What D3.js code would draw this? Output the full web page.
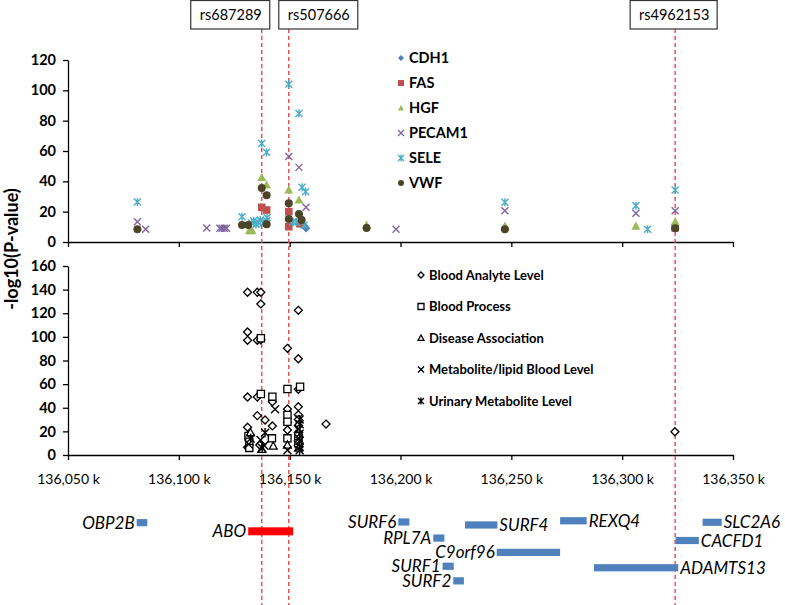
<!DOCTYPE html>
<html>
<head>
<meta charset="utf-8">
<script src="https://cdn.jsdelivr.net/npm/d3@7"></script>
<style>
  body { margin: 0; background: #fff; }
  text { font-family: Lato, "Open Sans", sans-serif; }
</style>
</head>
<body>
<div id="chart"></div>
<script>
'use strict'

// genomic positions in kb, values are -log10(P)
const xTicks = [136050, 136100, 136150, 136200, 136250, 136300, 136350]
const topTicks = [0, 20, 40, 60, 80, 100, 120]
const bottomTicks = [0, 20, 40, 60, 80, 100, 120, 140, 160]

const snpNames = ['rs687289', 'rs507666', 'rs4962153']
const snpPos = [136137.4, 136149.6, 136323.9]

// top panel: protein levels
const cdh1 = [[136157.4, 9], [136156.6, 10.5]]
const fas = [[136137.4, 22.9], [136139.6, 21.1], [136149.6, 20], [136149.6, 10.1],
  [136154.6, 12], [136323.9, 9.4]]
const hgf = [[136131.8, 7.5], [136133.0, 7.5], [136137.4, 42.6], [136139.6, 37.6],
  [136149.6, 34.3], [136154.2, 27.7], [136155.0, 17.3], [136184.7, 11.2],
  [136247.1, 10.5], [136306.2, 10.5], [136323.9, 13.4]]
const pecam1 = [[136081.3, 13.4], [136085.0, 8.4], [136112.6, 9.2], [136118.5, 9],
  [136119.5, 9], [136120.5, 9], [136121.5, 9], [136149.6, 56.3], [136154.2, 49.2],
  [136157.4, 22.9], [136198.0, 8.4], [136247.1, 20.6], [136306.2, 18.9], [136323.9, 20.6]]
const sele = [[136081.3, 26.4], [136128.5, 16.7], [136132.8, 12.5], [136133.8, 14],
  [136134.8, 11.5], [136135.8, 13], [136136.8, 14.5], [136138.0, 12.5], [136139.6, 14],
  [136139.8, 16], [136137.4, 65], [136139.6, 59.1], [136149.6, 104], [136151.5, 13.4],
  [136153.0, 13], [136154.2, 84.8], [136155.6, 36.1], [136157.2, 33.2], [136156.5, 11],
  [136247.1, 26.2], [136306.2, 23.9], [136311.5, 8.4], [136323.9, 34.3]]
const vwf = [[136081.3, 8.4], [136128.5, 11.2], [136131.3, 11.2], [136137.4, 35.6],
  [136139.6, 30.8], [136139.6, 11.7], [136149.6, 25.5], [136149.6, 15.2],
  [136154.2, 18.5], [136155.4, 14.5], [136184.7, 9.2], [136247.1, 8.4], [136323.9, 9]]

// bottom panel: GWAS catalogue traits
const bloodAnalyte = [[136131.0, 137.8], [136135.4, 137.8], [136137.0, 137.8],
  [136137.0, 127.9], [136153.9, 122.5], [136131.0, 104.1], [136131.0, 97.1],
  [136135.4, 97.1], [136137.0, 97.5], [136149.0, 90.3], [136153.9, 81.5],
  [136153.9, 55.6], [136131.0, 49.1], [136135.4, 49.1], [136142.2, 45.1],
  [136149.0, 38.9], [136153.9, 40.9], [136135.4, 33.3], [136138.9, 29.6],
  [136142.2, 24.6], [136149.0, 27.7], [136166.4, 26.2], [136131.0, 23.5],
  [136149.0, 21.2], [136153.9, 34], [136153.9, 30], [136153.9, 25], [136153.9, 19],
  [136136.5, 8.5], [136131.0, 6.5], [136153.9, 12], [136153.9, 8], [136323.8, 19.7]]
const bloodProcess = [[136137.0, 98.8], [136149.0, 55.9], [136154.7, 57.8],
  [136137.0, 51.7], [136142.2, 49.4], [136149.0, 33.9], [136149.0, 28.2],
  [136131.4, 16.1], [136131.8, 11.3], [136142.0, 14.1], [136149.0, 14.1],
  [136153.9, 16], [136153.9, 10], [136131.8, 6]]
const diseaseAssoc = [[136132.3, 19], [136142.6, 7.6], [136149.0, 8.5],
  [136137.4, 5], [136154.0, 6]]
const metaboliteBlood = [[136143.4, 38.7], [136136.9, 12.7], [136149.0, 4],
  [136154.2, 22], [136154.2, 14], [136131.5, 9], [136138.5, 8]]
const urinaryMetabolite = [[136138.9, 18.9], [136154.5, 30], [136154.5, 26],
  [136154.5, 18], [136154.5, 12], [136154.5, 7], [136154.5, 4], [136132.4, 14],
  [136137.6, 6]]

// gene track
const geneNames = ['OBP2B', 'ABO', 'SURF6', 'RPL7A', 'SURF1', 'SURF2', 'SURF4',
  'C9orf96', 'REXQ4', 'ADAMTS13', 'CACFD1', 'SLC2A6']
const geneStart = [136081.0, 136131.3, 136199.0, 136214.8, 136219.0, 136223.8,
  136229.1, 136243.4, 136272.0, 136287.3, 136324.1, 136336.3]
const geneEnd = [136085.8, 136151.6, 136204.0, 136219.8, 136224.0, 136228.6,
  136243.7, 136272.0, 136284.0, 136325.3, 136334.6, 136344.9]
const geneLane = [0.05, 0.69, 0, 1.19, 3.28, 4.36, 0.22, 2.25, -0.09, 3.39, 1.37, 0.02]
const geneLabelSide = ['left', 'left', 'left', 'left', 'left', 'left', 'right',
  'left', 'right', 'right', 'right', 'right']

const topSeries = [
  {name: 'CDH1', data: cdh1, shape: 'diamond', color: '#4F81BD'},
  {name: 'FAS', data: fas, shape: 'square', color: '#C0504D'},
  {name: 'HGF', data: hgf, shape: 'triangle', color: '#9BBB59'},
  {name: 'PECAM1', data: pecam1, shape: 'x', color: '#8064A2'},
  {name: 'SELE', data: sele, shape: 'star', color: '#4BACC6'},
  {name: 'VWF', data: vwf, shape: 'circle', color: '#4A4526'},
]
const bottomSeries = [
  {name: 'Blood Analyte Level', data: bloodAnalyte, shape: 'diamond'},
  {name: 'Blood Process', data: bloodProcess, shape: 'square'},
  {name: 'Disease Association', data: diseaseAssoc, shape: 'triangle'},
  {name: 'Metabolite/lipid Blood Level', data: metaboliteBlood, shape: 'x'},
  {name: 'Urinary Metabolite Level', data: urinaryMetabolite, shape: 'star'},
]

const W = 785, H = 605
const svg = d3.select('#chart').append('svg')
  .attr('width', W).attr('height', H)

const x = d3.scaleLinear().domain([136050, 136350]).range([68, 733])
const yTop = d3.scaleLinear().domain([0, 120]).range([242, 60])
const yBot = d3.scaleLinear().domain([0, 160]).range([455, 266])
const yLane = d3.scaleLinear().domain([0, 1]).range([522, 535.5])

function markerPath(shape, s) {
  if (shape === 'diamond') return `M0,${-s}L${s},0L0,${s}L${-s},0Z`
  if (shape === 'square') return `M${-s},${-s}H${s}V${s}H${-s}Z`
  if (shape === 'triangle') return `M0,${-s}L${s},${s * 0.8}L${-s},${s * 0.8}Z`
  if (shape === 'circle') return d3.arc()({innerRadius: 0, outerRadius: s, startAngle: 0, endAngle: 2 * Math.PI})
  if (shape === 'x') return `M${-s},${-s}L${s},${s}M${s},${-s}L${-s},${s}`
  // star: x with a vertical bar
  return `M${-s},${-s}L${s},${s}M${s},${-s}L${-s},${s}M0,${-s * 1.15}L0,${s * 1.15}`
}

function styleMarker(sel, shape, color, filled) {
  const lineOnly = shape === 'x' || shape === 'star'
  if (lineOnly) {
    sel.attr('fill', 'none').attr('stroke', color).attr('stroke-width', 1.4)
  } else if (filled) {
    sel.attr('fill', color).attr('stroke', 'none')
  } else {
    sel.attr('fill', '#fff').attr('stroke', color).attr('stroke-width', 1.3)
  }
}

// ---- axes ----
function drawXAxis(y0, withLabels) {
  const g = svg.append('g').attr('transform', `translate(0,${y0})`)
    .call(d3.axisBottom(x).tickValues(xTicks).tickSize(5).tickSizeOuter(0)
      .tickPadding(14)
      .tickFormat(withLabels ? d => d3.format(',')(d) + ' k' : ''))
  g.select('.domain').attr('stroke', '#000').attr('stroke-width', 1.3)
  g.selectAll('.tick line').attr('stroke', '#000').attr('stroke-width', 1.3)
  g.selectAll('text').attr('font-family', 'Lato').attr('font-size', 14).attr('fill', '#000')
}
function drawYAxis(scale, ticks) {
  const g = svg.append('g').attr('transform', 'translate(68,0)')
    .call(d3.axisLeft(scale).tickValues(ticks).tickSize(5).tickSizeOuter(0).tickPadding(7))
  g.select('.domain').attr('stroke', '#000').attr('stroke-width', 1.3)
  g.selectAll('.tick line').attr('stroke', '#000').attr('stroke-width', 1.3)
  g.selectAll('text').attr('font-family', 'Lato').attr('font-size', 14.5)
    .attr('font-weight', 'bold').attr('fill', '#000')
}
drawYAxis(yTop, topTicks)
drawYAxis(yBot, bottomTicks)
drawXAxis(242, false)
drawXAxis(455, true)

svg.append('text')
  .attr('transform', 'translate(18,249) rotate(-90)')
  .attr('text-anchor', 'middle')
  .attr('font-size', 18).attr('font-weight', 'bold')
  .text('-log10(P-value)')

// ---- SNP lines ----
const snpLabelDx = [-31, 30, -1]
svg.append('g').selectAll('line').data(snpPos).enter()
  .append('line')
    .attr('x1', d => x(d)).attr('x2', d => x(d))
    .attr('y1', 29).attr('y2', H)
    .attr('stroke', '#E8474A').attr('stroke-width', 1.4)
    .attr('stroke-dasharray', '4,3')

const snpBox = svg.append('g').selectAll('g').data(snpNames).enter()
  .append('g')
    .attr('transform', (d, i) => `translate(${x(snpPos[i]) + snpLabelDx[i]},0)`)
snpBox.append('rect')
  .attr('x', (d, i) => i === 2 ? -44 : -40).attr('y', 0.5)
  .attr('width', (d, i) => i === 2 ? 87 : 79).attr('height', 28.5)
  .attr('fill', '#fff').attr('stroke', '#333').attr('stroke-width', 1.2)
snpBox.append('text')
  .attr('y', 20).attr('text-anchor', 'middle')
  .attr('font-size', 14.5).text(d => d)

// ---- top panel points ----
topSeries.forEach(s => {
  const size = s.shape === 'circle' ? 4 : s.shape === 'triangle' ? 4.5 : s.shape === 'square' ? 3.8 : s.shape === 'diamond' ? 4.2 : 3.5
  svg.append('g').selectAll('path').data(s.data).enter()
    .append('path')
      .attr('transform', d => `translate(${x(d[0])},${yTop(d[1])})`)
      .attr('d', markerPath(s.shape, size))
      .call(styleMarker, s.shape, s.color, true)
})

// top legend
const legTop = svg.append('g').selectAll('g').data(topSeries).enter()
  .append('g').attr('transform', (d, i) => `translate(401,${58 + i * 25})`)
legTop.append('path')
  .attr('d', d => markerPath(d.shape, 3))
  .each(function (d) { d3.select(this).call(styleMarker, d.shape, d.color, true) })
legTop.append('text')
  .attr('x', 8).attr('y', 5)
  .attr('font-size', 14.5).attr('font-weight', 'bold')
  .text(d => d.name)

// ---- bottom panel points ----
bottomSeries.forEach(s => {
  const size = s.shape === 'triangle' ? 4 : s.shape === 'square' ? 3.6 : 4
  svg.append('g').selectAll('path').data(s.data).enter()
    .append('path')
      .attr('transform', d => `translate(${x(d[0])},${yBot(d[1])})`)
      .attr('d', markerPath(s.shape, size))
      .call(styleMarker, s.shape, '#000', false)
})

const legBot = svg.append('g').selectAll('g').data(bottomSeries).enter()
  .append('g').attr('transform', (d, i) => `translate(421,${275 + i * 31.5})`)
legBot.append('path')
  .attr('d', d => markerPath(d.shape, 3))
  .each(function (d) { d3.select(this).call(styleMarker, d.shape, '#000', false) })
legBot.append('text')
  .attr('x', 8).attr('y', 4.5)
  .attr('font-size', 13).attr('font-weight', 'bold')
  .text(d => d.name)

// ---- gene track ----
const genes = svg.append('g').selectAll('g').data(geneNames).enter().append('g')
genes.append('rect')
  .attr('x', (d, i) => x(geneStart[i]))
  .attr('width', (d, i) => x(geneEnd[i]) - x(geneStart[i]))
  .attr('y', (d, i) => yLane(geneLane[i]) - (d === 'ABO' ? 4 : 3.6))
  .attr('height', d => d === 'ABO' ? 8 : 7.2)
  .attr('fill', d => d === 'ABO' ? '#FF0000' : '#4F81BD')
genes.append('text')
  .attr('x', (d, i) => geneLabelSide[i] === 'left' ? x(geneStart[i]) - 2 : x(geneEnd[i]) + 2)
  .attr('y', (d, i) => yLane(geneLane[i]))
  .attr('dy', '0.36em')
  .attr('text-anchor', (d, i) => geneLabelSide[i] === 'left' ? 'end' : 'start')
  .attr('font-family', '"Liberation Sans", Arial, sans-serif')
  .attr('font-style', 'italic').attr('font-size', 17)
  .text(d => d)
</script>
</body>
</html>
